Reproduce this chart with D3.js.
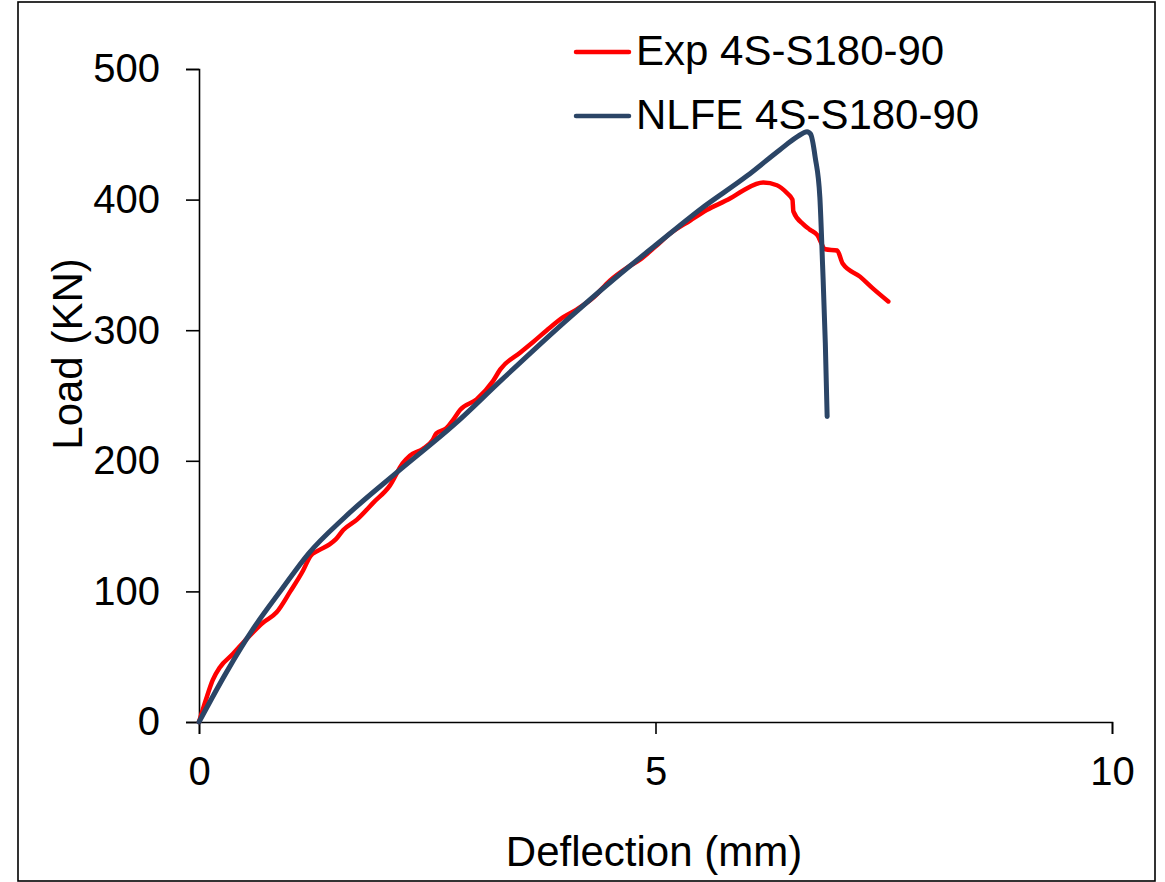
<!DOCTYPE html>
<meta charset="utf-8">
<style>
body { margin: 0; background: #fff; }
text { font-family: "Liberation Sans", Arial, sans-serif; fill: #000; }
.axis path, .axis line { stroke: #000; stroke-width: 1.6; }
.axis text { font-size: 40px; }
</style>
<svg width="1165" height="882"></svg>
<script src="https://d3js.org/d3.v7.min.js"></script>
<script>

// Load-deflection readings
var expDefl = [0, 0.08, 0.15, 0.23, 0.37, 0.5, 0.7, 0.85, 1.0, 1.14, 1.22, 1.3, 1.43, 1.5, 1.58, 1.73, 1.91, 2.09, 2.23, 2.31, 2.45, 2.56, 2.6, 2.71, 2.78, 2.86, 3.04, 3.22, 3.3, 3.52, 3.66, 3.81, 3.99, 4.14, 4.32, 4.5, 4.69, 4.83, 5.0, 5.16, 5.38, 5.56, 5.82, 5.96, 6.18, 6.33, 6.44, 6.5, 6.51, 6.62, 6.69, 6.77, 6.86, 6.99, 7.05, 7.24, 7.38, 7.55];
var expLoad = [0, 18, 32, 42, 52, 62, 76, 84, 100, 116, 127, 131, 136, 140, 147, 155, 168, 181, 198, 204, 209, 216, 221, 225, 231, 239, 247, 261, 270, 283, 291, 300, 310, 316, 325, 338, 348, 354, 364, 374, 384, 392, 401, 407, 413, 411, 405, 400, 391, 381, 377, 373, 362, 361, 351, 341, 332, 322];

var feDefl = [0, 0.3, 0.6, 0.9, 1.2, 1.6, 2.2, 2.8, 3.3, 4.0, 4.56, 5.0, 5.5, 6.0, 6.36, 6.55, 6.66, 6.70, 6.75, 6.80, 6.83, 6.86, 6.88];
var feLoad = [0, 38, 72, 101, 129, 157, 193, 228, 261, 306, 340, 365, 393, 418, 438, 448, 452, 450, 432, 402, 350, 290, 234];

var seriesNames = ["Exp 4S-S180-90", "NLFE 4S-S180-90"];
var seriesColors = ["#ff0000", "#2b4566"];
var xTicks = [0, 5, 10];
var yTicks = [0, 100, 200, 300, 400, 500];

var svg = d3.select("svg");

// outer frame
svg.append("rect")
  .attr("x", 18).attr("y", 2)
  .attr("width", 1137).attr("height", 879)
  .attr("fill", "none").attr("stroke", "#000").attr("stroke-width", 1.6);

var x = d3.scaleLinear().domain([0, 10]).range([199, 1112]);
var y = d3.scaleLinear().domain([0, 500]).range([722, 69]);

svg.append("g")
  .attr("class", "axis")
  .attr("transform", "translate(0,722)")
  .call(d3.axisBottom(x).tickValues(xTicks).tickSize(12).tickPadding(23).tickFormat(d3.format("d")));

svg.append("g")
  .attr("class", "axis")
  .attr("transform", "translate(199,0)")
  .call(d3.axisLeft(y).tickValues(yTicks).tickSize(13).tickPadding(26).tickFormat(d3.format("d")));

// axis titles
svg.append("text")
  .attr("x", 654).attr("y", 866)
  .attr("text-anchor", "middle")
  .style("font-size", "42px")
  .text("Deflection (mm)");

svg.append("text")
  .attr("transform", "translate(82,354) rotate(-90)")
  .attr("text-anchor", "middle")
  .style("font-size", "42px")
  .text("Load (KN)");

var line = d3.line()
  .x(function(d) { return x(d[0]); })
  .y(function(d) { return y(d[1]); })
  .curve(d3.curveMonotoneX);

var expData = expDefl.map(function(d, i) { return [d, expLoad[i]]; });
var feData = feDefl.map(function(d, i) { return [d, feLoad[i]]; });

svg.append("path")
  .datum(expData)
  .attr("d", line)
  .attr("fill", "none")
  .attr("stroke", seriesColors[0])
  .attr("stroke-width", 4.5)
  .attr("stroke-linejoin", "round")
  .attr("stroke-linecap", "round");

svg.append("path")
  .datum(feData)
  .attr("d", line)
  .attr("fill", "none")
  .attr("stroke", seriesColors[1])
  .attr("stroke-width", 5)
  .attr("stroke-linejoin", "round")
  .attr("stroke-linecap", "round");

// legend
var legend = svg.selectAll(".legend")
  .data(seriesNames)
  .enter().append("g")
  .attr("class", "legend")
  .attr("transform", function(d, i) { return "translate(0," + (52 + i * 64) + ")"; });

legend.append("line")
  .attr("x1", 576).attr("x2", 629)
  .attr("y1", 0).attr("y2", 0)
  .attr("stroke", function(d, i) { return seriesColors[i]; })
  .attr("stroke-width", 4.5)
  .attr("stroke-linecap", "round");

legend.append("text")
  .attr("x", 636).attr("y", 13)
  .style("font-size", "42px")
  .text(function(d) { return d; });

</script>
